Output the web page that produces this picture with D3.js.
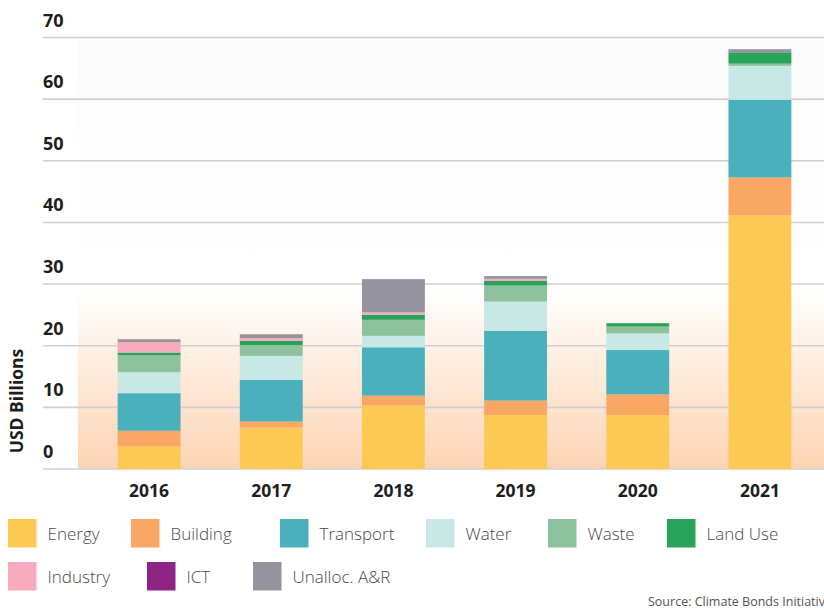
<!DOCTYPE html>
<html>
<head>
<meta charset="utf-8">
<script src="https://cdn.jsdelivr.net/npm/d3@7"></script>
<style>
  body { margin: 0; background: #fff; }
  svg { display: block; font-family: "Open Sans", sans-serif; }
</style>
</head>
<body>
<div id="chart"></div>
<script>
// data (USD billions)
var years = ["2016", "2017", "2018", "2019", "2020", "2021"];
var sectors = ["Energy", "Building", "Transport", "Water", "Waste", "Land Use", "Industry", "ICT", "Unalloc. A&R"];
var colors = ["#FDC955", "#F9A764", "#4AB1BC", "#C8E8E6", "#8EC19D", "#2AA35A", "#F6AABD", "#8E2585", "#94939E"];

var energy    = [3.7, 6.7, 10.3, 8.75, 8.75, 41.1];
var building  = [2.5, 1.0, 1.6, 2.35, 3.35, 6.2];
var transport = [6.1, 6.75, 7.85, 11.3, 7.2, 12.6];
var water     = [3.4, 3.9, 1.85, 4.75, 2.7, 5.5];
var waste     = [2.75, 1.75, 2.6, 2.6, 1.1, 0.35];
var landUse   = [0.45, 0.7, 0.8, 0.75, 0.55, 1.85];
var industry  = [1.7, 0.45, 0.4, 0.35, 0, 0];
var ict       = [0, 0, 0, 0, 0, 0];
var unalloc   = [0.45, 0.6, 5.4, 0.45, 0, 0.5];

var yTicks = [0, 10, 20, 30, 40, 50, 60, 70];

var series = [energy, building, transport, water, waste, landUse, industry, ict, unalloc];
var rows = years.map(function(y, i) {
  var r = { year: y };
  sectors.forEach(function(s, k) { r[s] = series[k][i]; });
  return r;
});

var width = 824, height = 609;
var svg = d3.select("#chart").append("svg")
  .attr("width", width)
  .attr("height", height);

var x = d3.scaleBand()
  .domain(years)
  .range([88, 821])
  .paddingInner(0.485)
  .paddingOuter(0.2425);

var y = d3.scaleLinear()
  .domain([0, 70])
  .range([469, 37.5]);

// background gradient, white at top fading to peach at the baseline
var defs = svg.append("defs");
var grad = defs.append("linearGradient")
  .attr("id", "bg")
  .attr("x1", 0).attr("y1", 0).attr("x2", 0).attr("y2", 1);
grad.append("stop").attr("offset", "0%").attr("stop-color", "#fcfcfc");
grad.append("stop").attr("offset", "58%").attr("stop-color", "#ffffff");
grad.append("stop").attr("offset", "100%").attr("stop-color", "#fdd4b4");

svg.append("rect")
  .attr("x", 78)
  .attr("y", y(70))
  .attr("width", width - 78)
  .attr("height", y(0) - y(70))
  .attr("fill", "url(#bg)");

// gridlines + labels
var grid = svg.append("g");
grid.selectAll("line")
  .data(yTicks)
  .enter().append("line")
  .attr("x1", 43)
  .attr("x2", width)
  .attr("y1", function(d) { return y(d); })
  .attr("y2", function(d) { return y(d); })
  .attr("stroke", "#cfcfd4")
  .attr("stroke-width", 1.6);

grid.selectAll("text")
  .data(yTicks)
  .enter().append("text")
  .attr("x", 43)
  .attr("y", function(d) { return y(d) - 11; })
  .text(function(d) { return d; })
  .style("font-size", "18px")
  .style("font-weight", "bold")
  .attr("fill", "#1e1e1e");

// stacked bars
var stack = d3.stack().keys(sectors);
var layers = stack(rows);

svg.append("g")
  .selectAll("g")
  .data(layers)
  .enter().append("g")
  .attr("fill", function(d, i) { return colors[i]; })
  .selectAll("rect")
  .data(function(d) { return d; })
  .enter().append("rect")
  .attr("x", function(d) { return x(d.data.year); })
  .attr("width", x.bandwidth())
  .attr("y", function(d) { return y(d[1]); })
  .attr("height", function(d) { return y(d[0]) - y(d[1]); });

// x labels
svg.append("g")
  .selectAll("text")
  .data(years)
  .enter().append("text")
  .attr("x", function(d) { return x(d) + x.bandwidth() / 2; })
  .attr("y", 497)
  .attr("text-anchor", "middle")
  .text(function(d) { return d; })
  .style("font-size", "17.5px")
  .style("font-weight", "bold")
  .attr("fill", "#1e1e1e");

// y title
svg.append("text")
  .attr("transform", "translate(23,401) rotate(-90)")
  .attr("text-anchor", "middle")
  .text("USD Billions")
  .style("font-size", "17.5px")
  .style("font-weight", "bold")
  .attr("fill", "#1e1e1e");

// legend
var legendPos = [
  [8, 519], [131, 519], [280, 519], [426, 519], [548, 519], [667, 519],
  [8, 562], [147, 562], [253, 562]
];
var legend = svg.append("g")
  .selectAll("g")
  .data(sectors)
  .enter().append("g")
  .attr("transform", function(d, i) { return "translate(" + legendPos[i][0] + "," + legendPos[i][1] + ")"; });

legend.append("rect")
  .attr("width", 28.5)
  .attr("height", 28.5)
  .attr("fill", function(d, i) { return colors[i]; });

legend.append("text")
  .attr("x", 39.5)
  .attr("y", 21)
  .text(function(d) { return d; })
  .style("font-size", "17px")
  .style("font-weight", 300)
  .attr("fill", "#4a4a4a");

// source note runs off the right edge, as in the reference
svg.append("text")
  .attr("x", 648)
  .attr("y", 606)
  .text("Source: Climate Bonds Initiative")
  .style("font-size", "12.5px")
  .attr("fill", "#555");
</script>
</body>
</html>
